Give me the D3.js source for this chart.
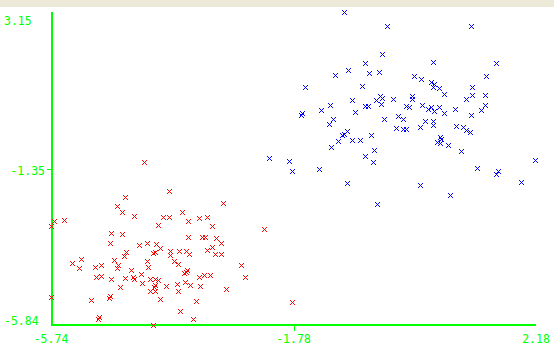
<!DOCTYPE html>
<html>
<head>
<meta charset="utf-8">
<script src="https://cdn.jsdelivr.net/npm/d3@7"></script>
<style>
  html, body { margin: 0; padding: 0; background: #ffffff; }
  svg { display: block; }
  text { font-family: "DejaVu Sans Mono", "Liberation Mono", monospace; font-size: 11.5px; fill: #00ff00; }
</style>
</head>
<body>
<script>
// ---- data ----
const xDomain = [-5.74, 2.18];
const yDomain = [-5.84, 3.15];
const xTicks = [-5.74, -1.78, 2.18];
const yTicks = [3.15, -1.35, -5.84];
const xTickLabels = ["-5.74", "-1.78", "2.18"];
const yTickLabels = ["3.15", "-1.35", "-5.84"];

const clusterRed = [
  [-4.22,-1.15],[-3.81,-1.99],[-4.53,-2.16],[-2.93,-2.33],[-4.67,-2.42],[-4.58,-2.59],[-3.60,-2.59],
  [-4.38,-2.71],[-3.91,-2.74],[-3.81,-2.74],[-3.33,-2.77],[-3.19,-2.74],[-5.69,-2.85],[-5.52,-2.82],
  [-3.50,-2.85],[-3.99,-2.97],[-3.11,-3.00],[-4.76,-3.20],[-4.58,-3.23],[-3.50,-3.31],[-3.27,-3.31],
  [-3.22,-3.31],[-3.04,-3.34],[-2.96,-3.49],[-4.77,-3.49],[-4.30,-3.54],[-4.17,-3.49],[-4.02,-3.52],
  [-3.96,-3.63],[-3.11,-3.60],[-3.20,-3.69],[-4.51,-3.75],[-4.54,-3.86],[-4.04,-3.75],[-4.07,-3.77],
  [-3.79,-3.72],[-3.79,-3.83],[-3.65,-3.72],[-3.53,-3.72],[-3.48,-3.80],[-3.07,-3.80],[-2.96,-3.80],
  [-5.25,-3.95],[-5.29,-4.21],[-4.71,-3.98],[-4.17,-4.00],[-3.73,-4.00],[-3.66,-4.09],[-5.02,-4.18],
  [-4.93,-4.12],[-4.64,-4.12],[-4.66,-4.21],[-4.15,-4.18],[-4.27,-4.38],[-3.57,-4.35],[-4.40,-4.47],
  [-4.38,-4.52],[-5.00,-4.47],[-4.92,-4.44],[-4.76,-4.52],[-4.53,-4.49],[-4.12,-4.52],[-4.04,-4.52],
  [-3.99,-4.55],[-3.32,-4.47],[-3.24,-4.41],[-3.14,-4.41],[-4.25,-4.64],[-4.04,-4.70],[-4.05,-4.75],
  [-4.62,-4.75],[-3.86,-4.72],[-3.68,-4.67],[-3.55,-4.61],[-3.47,-4.70],[-2.89,-4.81],[-4.13,-4.87],
  [-4.04,-4.87],[-3.66,-4.87],[-5.74,-5.04],[-3.96,-5.10],[-3.37,-5.16],[-3.63,-5.45],[-4.07,-5.84],
  [-1.80,-5.19],
  [-5.74,-3.00],[-2.26,-3.08],[-5.39,-4.06],[-2.63,-4.12],[-3.52,-4.26],[-3.54,-4.32],[-4.43,-4.26],
  [-2.58,-4.47],[-3.30,-4.72],[-4.77,-5.01],[-4.79,-5.07],[-5.08,-5.13],[-4.95,-5.62],[-4.97,-5.68],
  [-3.42,-5.68]
];

const clusterBlue = [
  [-0.95,3.17],[-0.33,1.96],[-0.62,1.70],[0.49,1.73],[1.53,1.70],[-0.89,1.50],[-1.10,1.35],
  [-0.54,1.41],[-0.38,1.44],[0.31,1.24],[1.37,1.33],[0.47,1.15],[0.52,1.10],[0.50,1.01],[0.60,0.98],
  [-1.59,1.01],[-0.66,1.04],[1.14,1.01],[0.67,0.81],[1.14,0.78],[-0.82,0.63],[-0.43,0.63],[-0.36,0.75],
  [-0.33,0.69],[-0.35,0.52],[-0.15,0.66],[0.16,0.75],[0.16,0.66],[1.03,0.66],[-1.33,0.35],[-0.77,0.29],
  [-0.61,0.46],[-0.57,0.46],[0.06,0.46],[0.11,0.43],[0.32,0.49],[0.41,0.37],[0.47,0.43],[0.52,0.32],
  [0.60,0.43],[0.68,0.26],[0.85,0.37],[1.29,0.35],[1.12,0.20],[-0.31,0.09],[-0.07,0.17],[0.01,0.09],
  [-1.13,0.09],[-1.20,-0.06],[0.36,0.03],[0.49,0.03],[0.49,-0.09],[0.29,-0.14],[-0.10,-0.17],
  [0.01,-0.20],[0.06,-0.20],[0.88,-0.11],[0.99,-0.14],[1.03,-0.23],[1.11,-0.29],[-0.90,-0.26],
  [-0.95,-0.35],[-0.98,-0.37],[-1.06,-0.55],[-0.82,-0.52],[-0.70,-0.52],[0.62,-0.43],[0.63,-0.49],
  [0.57,-0.58],[0.62,-0.60],[0.75,-0.66],[-1.16,-0.72],[0.96,-0.84],[-0.62,-0.98],[-0.48,-1.15],
  [-1.85,-1.12],[-1.36,-1.35],[-0.90,-1.76],
  [-0.25,2.77],[1.12,2.77],[0.18,1.33],[1.34,0.78],[-1.18,0.49],[-1.64,0.26],[-1.65,0.20],[1.34,0.49],
  [-0.51,-0.37],[-0.46,-0.81],[-2.18,-1.04],[-1.80,-1.41],[-0.42,-2.36],[0.29,-1.82],[0.78,-2.10],
  [1.21,-1.33],[1.52,-1.50],[1.56,-1.41],[1.94,-1.73],[2.17,-1.10]
];

// ---- drawing ----
const W = 554, H = 359;
const svg = d3.select("body").append("svg").attr("width", W).attr("height", H);

svg.append("rect").attr("x", 0).attr("y", 0).attr("width", W).attr("height", 7).attr("fill", "#ece9d8");

const x = d3.scaleLinear().domain(xDomain).range([51, 536]);
const y = d3.scaleLinear().domain(yDomain).range([325, 13]);

const green = "#00ff00";

// axes
svg.append("line").attr("x1", 52).attr("x2", 52).attr("y1", 12).attr("y2", 326)
  .attr("stroke", green).attr("stroke-width", 2).attr("shape-rendering", "crispEdges");
svg.append("line").attr("x1", 51).attr("x2", 536).attr("y1", 325).attr("y2", 325)
  .attr("stroke", green).attr("stroke-width", 2).attr("shape-rendering", "crispEdges");

// y ticks + labels
yTicks.forEach((v, i) => {
  const py = y(v);
  const first = i === 0, last = i === yTicks.length - 1;
  if (!first && !last) {
    svg.append("line").attr("x1", 47).attr("x2", 52).attr("y1", Math.round(py)).attr("y2", Math.round(py))
      .attr("stroke", green).attr("stroke-width", 1).attr("shape-rendering", "crispEdges");
    svg.append("text").attr("x", 45).attr("y", py + 6).attr("text-anchor", "end").text(yTickLabels[i]);
  } else if (first) {
    svg.append("text").attr("x", 4).attr("y", py + 12).text(yTickLabels[i]);
  } else {
    svg.append("text").attr("x", 4).attr("y", py).text(yTickLabels[i]);
  }
});

// x ticks + labels
xTicks.forEach((v, i) => {
  const px = x(v);
  const first = i === 0, last = i === xTicks.length - 1;
  if (!first && !last) {
    svg.append("line").attr("x1", Math.round(px) + 0.5).attr("x2", Math.round(px) + 0.5).attr("y1", 325).attr("y2", 331)
      .attr("stroke", green).attr("stroke-width", 1);
  }
  svg.append("text").attr("x", px).attr("y", 343).attr("text-anchor", "middle").text(xTickLabels[i]);
});

// markers
const cross = "M-2.5,-2.5L2.5,2.5M-2.5,2.5L2.5,-2.5";
function drawSeries(data, color) {
  svg.append("g").selectAll("path").data(data).join("path")
    .attr("d", cross)
    .attr("transform", d => `translate(${Math.round(x(d[0])) + 0.5},${Math.round(y(d[1])) + 0.5})`)
    .attr("fill", "none").attr("stroke", color).attr("stroke-width", 1);
}
drawSeries(clusterRed, "#ff0000");
drawSeries(clusterBlue, "#0000ff");
</script>
</body>
</html>
